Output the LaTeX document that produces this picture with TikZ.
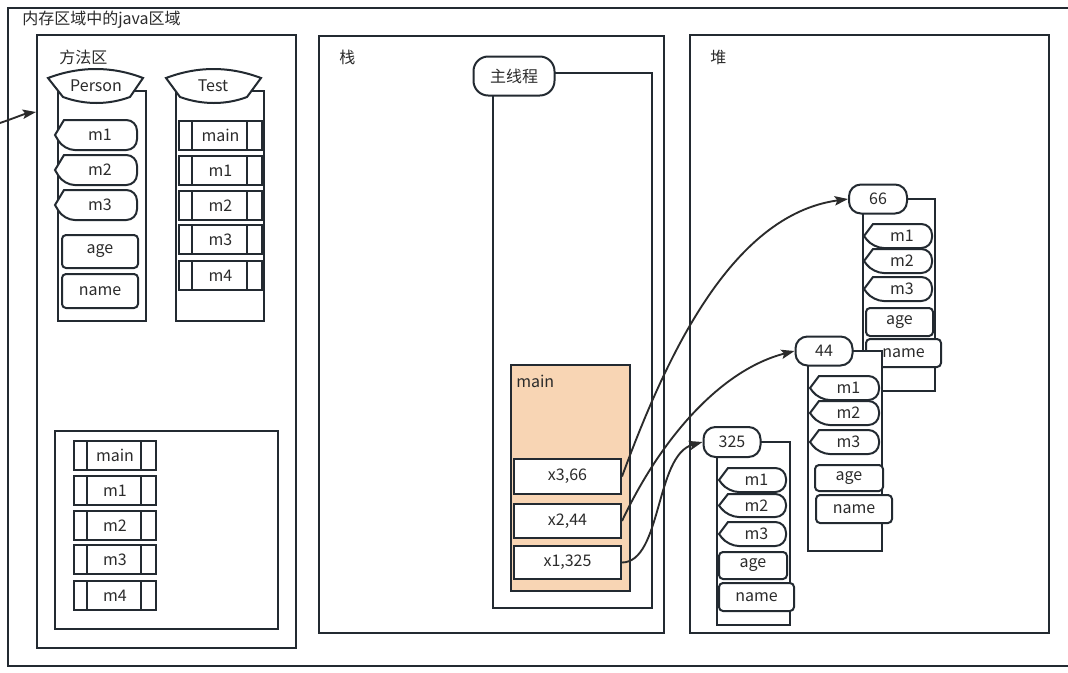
\documentclass[tikz,border=0pt]{standalone}
\usepackage{fontspec}
\setmainfont{Noto Sans CJK SC}
\usepackage{xcolor}
\usepackage{tikz}
\usetikzlibrary{arrows.meta}
\definecolor{MemLine}{HTML}{232A31}
\definecolor{MemText}{HTML}{2B2B2B}
\definecolor{MemFrame}{HTML}{F8D5B4}

\tikzset{
  sz/.style 2 args={minimum width={(#1)*0.75pt},minimum height={(#2)*0.75pt}},
  box/.style={draw=MemLine,line width=1.5pt,fill=white,inner sep=0pt,text=MemText,font=\fontsize{12}{14}\selectfont},
  pill/.style={box,rounded corners=9pt},
  field/.style={box,rounded corners=3pt},
  lbl/.style={inner sep=0pt,text=MemText,font=\fontsize{12}{14}\selectfont},
  link/.style={draw=MemText,line width=1.4pt,-{Stealth[length=10pt,width=7pt,inset=2pt]}},
}

% method item: name, x1, y1, x2, y2, text
\newcommand{\methitem}[6]{%
  \draw[box] (#2,{(#3+#5)/2}) -- ({#2+9},#3) {[rounded corners=8pt] -- (#4,#3) -- (#4,#5) -- ({#2+9},#5)} -- cycle;
  \node[lbl] (#1) at ({(#2+#4)/2+4},{(#3+#5)/2}) {#6};
}
% frame item: name, x1, y1, x2, y2, text
\newcommand{\procitem}[6]{%
  \node[box,sz={#4-#2}{#5-#3},anchor=north west] (#1) at (#2,#3) {#6};
  \draw[MemLine,line width=1.5pt] ({#2+14},#3) -- ({#2+14},#5) ({#4-14},#3) -- ({#4-14},#5);
}

\begin{document}
\begin{tikzpicture}[x=0.75pt,y=-0.75pt]
\path[use as bounding box] (0,0) rectangle (1068,672);
\draw[MemLine,line width=1.5pt] (1068,8) -- (8,8) -- (8,666) -- (1068,666);
\node[lbl,anchor=west] (memtitle) at (22,20) {内存区域中的java区域};

% method area
\node[box,sz={259}{613},anchor=north west] (method) at (36,34) {};
\node[lbl,anchor=west] (methodlbl) at (59,57) {方法区};
\coordinate (entry) at (-3,124);
\coordinate (methodin) at (36,112);
\draw[link] (entry) .. controls (12,119) and (24,114) .. (methodin);

\node[box,sz={88}{230},anchor=north west] (personbody) at (57,90) {};
\draw[box] (48,78) .. controls (80,66) and (112,66) .. (143,78) -- (130,97) .. controls (108,105) and (85,105) .. (63,97) -- cycle;
\node[lbl] (person) at (96,86) {Person};
\methitem{pm1}{55}{120}{137}{150}{m1}
\methitem{pm2}{55}{155}{137}{185}{m2}
\methitem{pm3}{55}{190}{137}{220}{m3}
\node[field,sz={76}{33},anchor=north west] (page) at (61,234) {age};
\node[field,sz={76}{34},anchor=north west] (pname) at (61,273) {name};

\node[box,sz={88}{230},anchor=north west] (testbody) at (175,90) {};
\draw[box] (166,78) .. controls (198,66) and (229,66) .. (261,78) -- (247,97) .. controls (226,105) and (202,105) .. (180,97) -- cycle;
\node[lbl] (test) at (213,86) {Test};
\procitem{tmain}{178}{120}{261}{149}{main}
\procitem{tm1}{178}{155}{261}{184}{m1}
\procitem{tm2}{178}{190}{261}{219}{m2}
\procitem{tm3}{178}{224}{261}{253}{m3}
\procitem{tm4}{178}{260}{261}{289}{m4}

\node[box,sz={223}{198},anchor=north west] (methodlist) at (54,430) {};
\procitem{smain}{73}{440}{155}{469}{main}
\procitem{sm1}{73}{475}{155}{504}{m1}
\procitem{sm2}{73}{510}{155}{539}{m2}
\procitem{sm3}{73}{544}{155}{573}{m3}
\procitem{sm4}{73}{580}{155}{609}{m4}

% stack
\node[box,sz={345}{597},anchor=north west] (stack) at (318,35) {};
\node[lbl,anchor=west] (stacklbl) at (339,57) {栈};
\node[box,sz={159}{535},anchor=north west] (threadbody) at (492,72) {};
\node[pill,rounded corners=11pt,sz={81}{39}] (mainthread) at (514,76) {主线程};
\node[box,fill=MemFrame,sz={119}{226},anchor=north west] (mainframe) at (510,364) {};
\node[lbl,anchor=west] (framelbl) at (516,381) {main};
\node[box,sz={107}{35},anchor=north west] (varx3) at (513,458) {x3,66};
\node[box,sz={107}{34},anchor=north west] (varx2) at (513,503) {x2,44};
\node[box,sz={107}{33},anchor=north west] (varx1) at (513,545) {x1,325};

% heap
\node[box,sz={359}{598},anchor=north west] (heap) at (689,34) {};
\node[lbl,anchor=west] (heaplbl) at (710,57) {堆};

\node[box,sz={72}{192},anchor=north west] (obj66body) at (862,198) {};
\node[pill,sz={58}{29}] (obj66) at (878,199) {66};
\methitem{am1}{864}{224}{932}{248}{m1}
\methitem{am2}{864}{249}{932}{273}{m2}
\methitem{am3}{864}{277}{932}{301}{m3}
\node[field,sz={67}{28},anchor=north west] (aage) at (865,307) {age};
\node[field,sz={75}{28},anchor=north west] (aname) at (865,338) {name};

\node[box,sz={74}{200},anchor=north west] (obj44body) at (807,350) {};
\node[pill,sz={57}{29}] (obj44) at (824,351) {44};
\methitem{bm1}{810}{376}{879}{400}{m1}
\methitem{bm2}{810}{401}{879}{425}{m2}
\methitem{bm3}{810}{430}{879}{454}{m3}
\node[field,sz={68}{26},anchor=north west] (bage) at (814,464) {age};
\node[field,sz={76}{28},anchor=north west] (bname) at (815,494) {name};

\node[box,sz={73}{183},anchor=north west] (obj325body) at (716,441) {};
\node[pill,sz={57}{30}] (obj325) at (732,442) {325};
\methitem{cm1}{719}{468}{786}{492}{m1}
\methitem{cm2}{719}{494}{786}{517}{m2}
\methitem{cm3}{719}{522}{786}{546}{m3}
\node[field,sz={68}{27},anchor=north west] (cage) at (718,551) {age};
\node[field,sz={75}{28},anchor=north west] (cname) at (718,582) {name};

% references
\draw[link] (varx3.east) .. controls (665,360) and (730,215) .. (obj66.west);
\draw[link] (varx2.east) .. controls (660,440) and (720,370) .. (obj44.west);
\draw[link] (varx1.east) .. controls (662,562) and (655,455) .. (obj325.west);
\end{tikzpicture}
\end{document}
